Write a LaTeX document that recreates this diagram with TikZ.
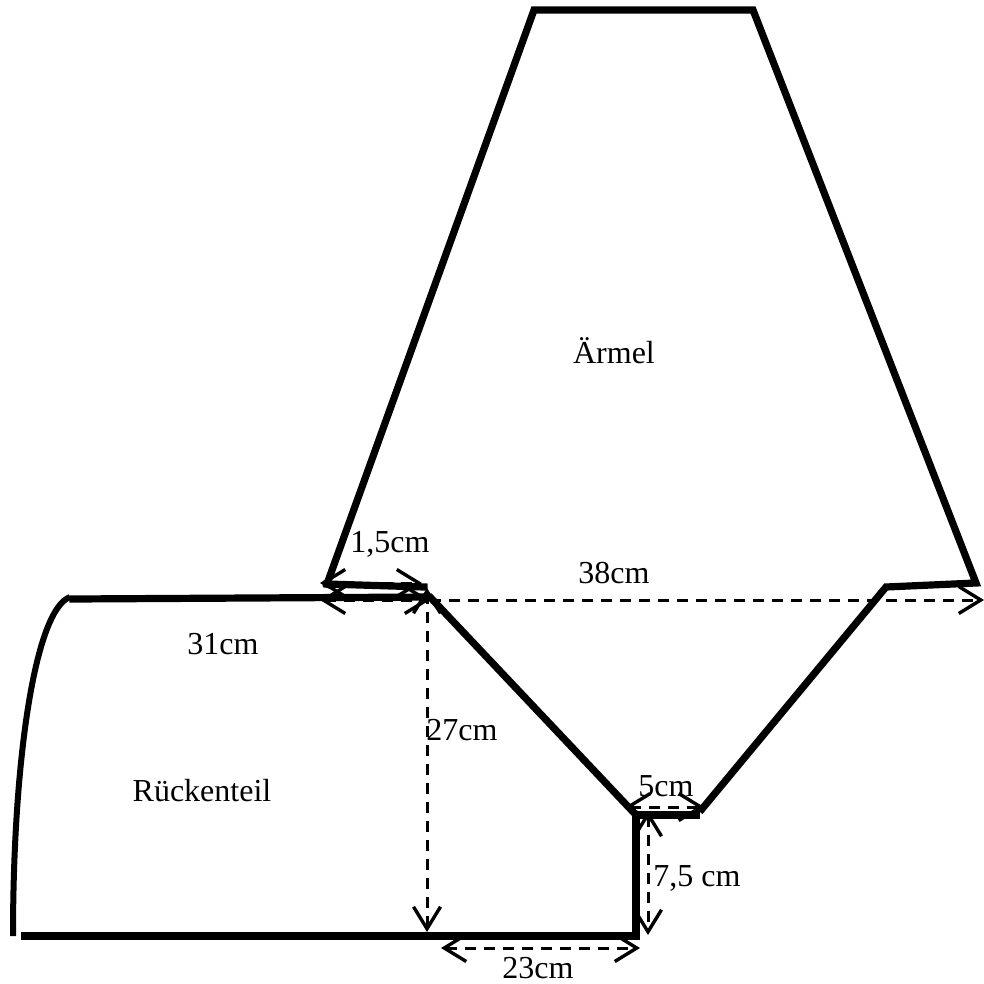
\documentclass[tikz,border=0pt]{standalone}
\usepackage{fontspec}
\setmainfont{Liberation Serif}
\usetikzlibrary{arrows.meta}
\tikzset{
  outline/.style={line width=7.2pt,line cap=rect,line join=miter},
  barb/.tip={Straight Barb[length=22pt,width=27pt,line width=3.4pt]},
  dimline/.style={line width=3pt,dash pattern=on 11pt off 8pt},
  dim/.style={dimline,{barb}-{barb}},
  dimend/.style={dimline,-{barb}},
  lbl/.style={font=\fontsize{32}{34}\selectfont,inner sep=0pt,anchor=center}
}
\begin{document}
\begin{tikzpicture}[x=1pt,y=-1pt]
\useasboundingbox[fill=white] (0,0) rectangle (984,984);
% coordinates
\coordinate (sa) at (327,584);
\coordinate (sb) at (534,10);
\coordinate (sc) at (753,10);
\coordinate (sd) at (976,583);
\coordinate (se) at (886,587);
\coordinate (sf) at (702,809);
\coordinate (bt) at (73,599);
\coordinate (bm) at (430,597);
\coordinate (sr) at (424,587);
\coordinate (ca) at (636,815);
\coordinate (cb) at (696,815);
\coordinate (cc) at (636,936);
\coordinate (bl) at (25,936);
\coordinate (cu) at (70,597);
\coordinate (cl) at (13,936);
% outlines
\draw[outline] (sa) -- (sb) -- (sc) -- (sd) -- (se) -- (sf);
\draw[outline] (sa) -- (sr);
\draw[outline] (bt) -- (bm) -- (ca);
\draw[outline] (ca) -- (cb);
\draw[outline] (ca) -- (cc) -- (bl);
\draw[line width=6pt] (cu) .. controls (35,610) and (13,760) .. (cl);
% dimensions
\coordinate (d1a) at (320,583); \coordinate (d1b) at (422,583);
\coordinate (d2a) at (320,600); \coordinate (d2b) at (430,600);
\coordinate (d3b) at (984,600);
\coordinate (d4a) at (427,588); \coordinate (d4b) at (427,932);
\coordinate (d5a) at (625,807); \coordinate (d5b) at (704,807);
\coordinate (d6a) at (648,811); \coordinate (d6b) at (648,935);
\coordinate (d7a) at (441,948); \coordinate (d7b) at (640,948);
\draw[dim] (d1a) -- (d1b);
\draw[dim] (d2a) -- (d2b);
\draw[dimend] (d2b) -- (d3b);
\draw[dim] (d4a) -- (d4b);
\draw[dim] (d5a) -- (d5b);
\draw[dim] (d6a) -- (d6b);
\draw[dim] (d7a) -- (d7b);
% labels
\node[lbl] (n1) at (390,544) {1,5cm};
\node[lbl] (n2) at (614,573) {38cm};
\node[lbl] (n3) at (223,644) {31cm};
\node[lbl] (n4) at (462,730) {27cm};
\node[lbl] (n5) at (666,786) {5cm};
\node[lbl] (n6) at (697,878) {7,5 cm};
\node[lbl] (n7) at (538,968) {23cm};
\node[lbl] (n8) at (614,351) {Ärmel};
\node[lbl] (n9) at (202,791) {Rückenteil};
\end{tikzpicture}
\end{document}
